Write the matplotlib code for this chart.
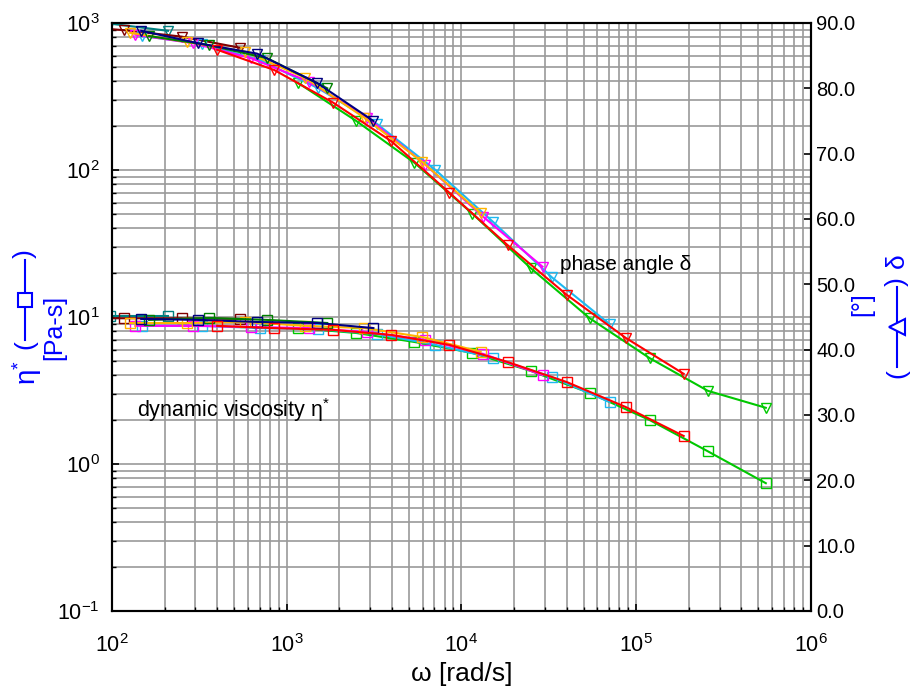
import numpy as np
import matplotlib
matplotlib.use('Agg')
import matplotlib.pyplot as plt
from matplotlib.lines import Line2D
from matplotlib.ticker import FixedLocator, FormatStrFormatter

plt.rcParams['font.family'] = ['Liberation Sans', 'DejaVu Sans']
plt.rcParams['mathtext.fontset'] = 'custom'
plt.rcParams['mathtext.rm'] = 'Liberation Sans'
plt.rcParams['mathtext.it'] = 'Liberation Sans'
plt.rcParams['axes.unicode_minus'] = False

# frequency [rad/s], complex viscosity [Pa-s], phase angle [deg] for each shifted data set
w_brown = [54, 117, 252, 540]
eta_brown = [9.8, 9.8, 9.8, 9.7]
delta_brown = [89.6, 88.9, 87.9, 86.2]

w_teal = [45, 97.5, 209]
eta_teal = [10.2, 10.2, 10.2]
delta_teal = [90.0, 89.9, 88.8]

w_navy = [147, 311, 678, 1496, 3133]
eta_navy = [9.7, 9.55, 9.25, 9.1, 8.4]
delta_navy = [88.8, 86.9, 85.3, 80.8, 75.0]

w_dgreen = [163, 359, 773, 1706]
eta_dgreen = [9.55, 9.85, 9.55, 9.1]
delta_dgreen = [88.0, 86.6, 84.6, 80.0]

w_orange = [127, 269, 578, 1276, 2782, 5984, 12860]
eta_orange = [9.1, 9.1, 9.25, 8.7, 8.4, 7.3, 5.8]
delta_orange = [88.5, 87.1, 85.6, 81.6, 75.5, 68.7, 60.9]

w_magenta = [136, 291, 626, 1346, 2893, 6219, 13370, 29100]
eta_magenta = [8.7, 8.7, 8.55, 8.4, 7.9, 6.98, 5.6, 4.03]
delta_magenta = [88.2, 86.9, 84.6, 81.0, 75.5, 68.3, 60.3, 52.7]

w_cyan = [149, 328, 705, 1517, 3304, 7100, 15240, 32810, 70470]
eta_cyan = [8.7, 8.7, 8.4, 8.28, 7.65, 6.46, 5.26, 3.91, 2.64]
delta_cyan = [88.0, 86.8, 84.3, 80.0, 74.5, 67.5, 59.5, 51.1, 43.9]

w_red = [400, 848, 1845, 3970, 8540, 18360, 40000, 87100, 187000]
eta_red = [8.7, 8.4, 8.17, 7.55, 6.46, 4.94, 3.61, 2.44, 1.55]
delta_red = [85.9, 82.8, 77.8, 71.9, 64.0, 56.0, 48.4, 41.8, 36.3]

w_lime = [1164, 2500, 5380, 11560, 24840, 54200, 119400, 257000, 552000]
eta_lime = [8.4, 7.78, 6.76, 5.69, 4.30, 3.04, 1.99, 1.22, 0.74]
delta_lime = [80.8, 75.0, 68.6, 60.8, 52.5, 44.8, 38.7, 33.7, 31.1]

series = [
    (w_lime, eta_lime, delta_lime, '#00C800'),
    (w_teal, eta_teal, delta_teal, '#008080'),
    (w_brown, eta_brown, delta_brown, '#800000'),
    (w_cyan, eta_cyan, delta_cyan, '#1EB8F0'),
    (w_magenta, eta_magenta, delta_magenta, '#FF00FF'),
    (w_orange, eta_orange, delta_orange, '#FFB400'),
    (w_dgreen, eta_dgreen, delta_dgreen, '#008000'),
    (w_navy, eta_navy, delta_navy, '#000080'),
    (w_red, eta_red, delta_red, '#FF0000'),
]

fig = plt.figure(figsize=(9.1, 6.92), dpi=100)
ax = fig.add_axes([0.1231, 0.1171, 0.768, 0.8497])
ax2 = ax.twinx()

for w, eta, delta, c in series:
    ax.plot(w, eta, color=c, lw=1.5, marker='s', ms=6.5, mfc='none', mec=c, mew=1.0)
    ax2.plot(w, delta, color=c, lw=1.5, marker='v', ms=6.5, mfc='none', mec=c, mew=1.0)

ax.set_xscale('log')
ax.set_yscale('log')
ax.set_xlim(1e2, 1e6)
ax.set_ylim(1e-1, 1e3)
ax2.set_ylim(0, 90)

ax.grid(True, which='both', color='#9a9a9a', lw=1.2)
ax.set_axisbelow(True)

ax.tick_params(which='both', direction='in', labelsize=15.5, top=False)
ax.tick_params(which='major', length=5, width=1.2)
ax.tick_params(which='minor', length=3, width=1.0)
ax.tick_params(axis='x', pad=17)
ax.tick_params(axis='y', pad=9)
ax2.yaxis.set_major_locator(FixedLocator(np.arange(0, 91, 10)))
ax2.yaxis.set_major_formatter(FormatStrFormatter('%.1f'))
ax2.tick_params(direction='in', length=5, width=1.2, labelsize=14.5, pad=4)

for a in (ax, ax2):
    for s in a.spines.values():
        s.set_linewidth(1.5)

ax.set_xlabel('ω [rad/s]', fontsize=19, labelpad=3)

ax.text(0.641, 0.590, 'phase angle δ', transform=ax.transAxes,
        fontsize=15, va='center', ha='left')
ax.text(0.036, 0.342, r'dynamic viscosity η$^{*}$', transform=ax.transAxes,
        fontsize=15.5, va='center', ha='left')

# left axis title: eta* ( -[]- ) [Pa-s]
blue = '#0000FF'
W, H = 910.0, 692.0
fig.text(27 / W, 1 - 373 / H, r'η$^{*}$', color=blue, fontsize=20, rotation=90, ha='center', va='center')
fig.text(25 / W, 1 - 345 / H, '(', color=blue, fontsize=19, rotation=90, ha='center', va='center')
fig.text(25 / W, 1 - 254 / H, ')', color=blue, fontsize=19, rotation=90, ha='center', va='center')
fig.add_artist(Line2D([25 / W, 25 / W], [1 - 340 / H, 1 - 260 / H], transform=fig.transFigure,
                      color=blue, lw=1.5))
fig.add_artist(Line2D([25 / W], [1 - 300 / H], transform=fig.transFigure, color=blue,
                      marker='s', ms=10, mfc='white', mec=blue, mew=1.5))
fig.text(54 / W, 1 - 327 / H, '[Pa-s]', color=blue, fontsize=18, rotation=90, ha='center', va='center')

# right axis title: [deg] ( -<- ) delta
fig.text(862 / W, 1 - 304 / H, '[°]', color=blue, fontsize=18, rotation=90, ha='center', va='center')
fig.text(897 / W, 1 - 374 / H, '(', color=blue, fontsize=19, rotation=90, ha='center', va='center')
fig.text(897 / W, 1 - 282 / H, ')', color=blue, fontsize=19, rotation=90, ha='center', va='center')
fig.add_artist(Line2D([897 / W, 897 / W], [1 - 367 / H, 1 - 287 / H], transform=fig.transFigure,
                      color=blue, lw=1.5))
fig.add_artist(Line2D([897 / W], [1 - 327 / H], transform=fig.transFigure, color=blue,
                      marker='<', ms=11, mfc='white', mec=blue, mew=1.5))
fig.text(897 / W, 1 - 261 / H, 'δ', color=blue, fontsize=19, rotation=90, ha='center', va='center')

fig.savefig('out.png', dpi=100)
